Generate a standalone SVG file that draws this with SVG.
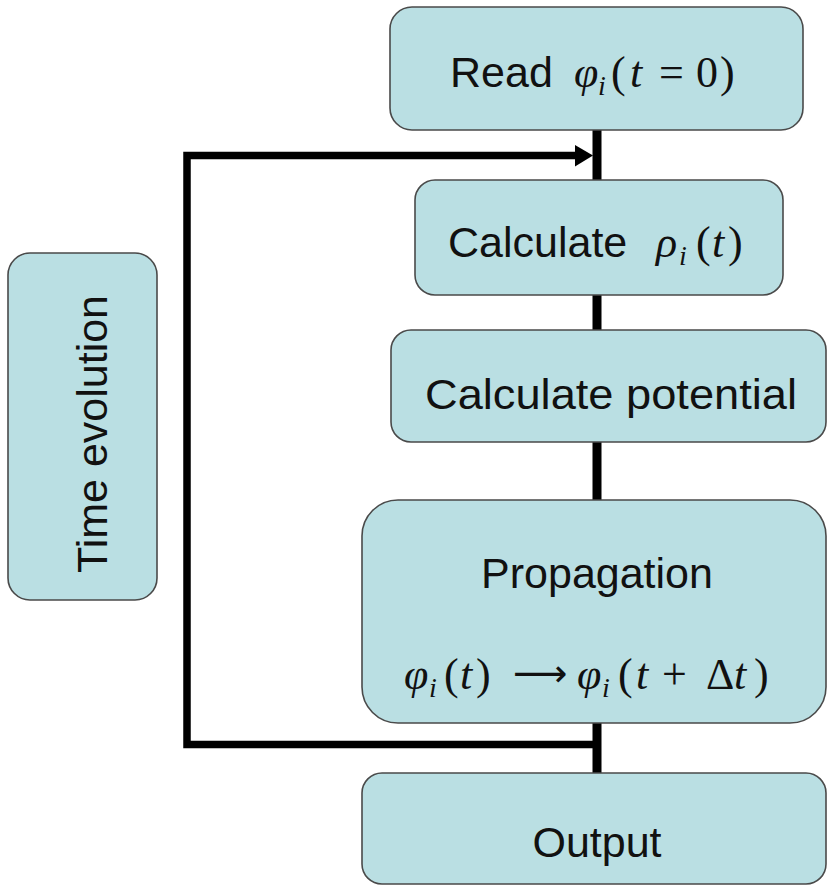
<svg xmlns="http://www.w3.org/2000/svg" width="827" height="886" viewBox="0 0 827 886">
  <style>
    .box { fill: #badfe3; stroke: #4a4a4a; stroke-width: 1.6; }
    .lbl { font-family: "Liberation Sans", Arial, sans-serif; font-size: 43px; fill: #111; }
    .math { font-family: "Liberation Serif", "Times New Roman", serif; font-size: 44px; fill: #111; }
    .it { font-style: italic; }
    .sub { font-size: 28px; font-style: italic; }
    .arr { font-family: "DejaVu Sans", sans-serif; font-size: 38px; }
    .wire { fill: none; stroke: #000; stroke-linecap: butt; stroke-linejoin: miter; }
  </style>
  <rect width="827" height="886" fill="#ffffff"/>

  <!-- connectors: main flow spine and the time-evolution loop -->
  <g id="connectors">
    <line class="wire" x1="597" y1="128" x2="597" y2="775" stroke-width="9"/>
    <path class="wire" d="M 597 744.5 H 187 V 155.5 H 577" stroke-width="7.5"/>
    <polygon points="575,145 593,155.5 575,166.5" fill="#000"/>
  </g>

  <g id="node-read">
    <rect class="box" x="390" y="7" width="413" height="123" rx="22"/>
    <text class="lbl" x="450" y="87">Read</text>
    <text class="math" y="87">
      <tspan class="it" x="574">φ</tspan>
      <tspan class="sub" x="598" y="95">i</tspan>
      <tspan x="611" y="87">(</tspan>
      <tspan class="it" x="630">t</tspan>
      <tspan x="659">=</tspan>
      <tspan x="696">0</tspan>
      <tspan x="720">)</tspan>
    </text>
  </g>

  <g id="node-density">
    <rect class="box" x="415" y="180" width="368" height="115" rx="20"/>
    <text class="lbl" x="448" y="257">Calculate</text>
    <text class="math" y="257">
      <tspan class="it" x="656">ρ</tspan>
      <tspan class="sub" x="679" y="265">i</tspan>
      <tspan x="696" y="257">(</tspan>
      <tspan class="it" x="712">t</tspan>
      <tspan x="728">)</tspan>
    </text>
  </g>

  <g id="node-potential">
    <rect class="box" x="391" y="330" width="435" height="112" rx="20"/>
    <text class="lbl" x="611" y="409" text-anchor="middle" textLength="372" lengthAdjust="spacingAndGlyphs">Calculate potential</text>
  </g>

  <g id="node-propagation">
    <rect class="box" x="362" y="500" width="464" height="223" rx="36"/>
    <text class="lbl" x="597" y="588" text-anchor="middle">Propagation</text>
    <text class="math" y="689">
      <tspan class="it" x="404">φ</tspan>
      <tspan class="sub" x="429" y="697">i</tspan>
      <tspan x="444" y="689">(</tspan>
      <tspan class="it" x="460">t</tspan>
      <tspan x="476">)</tspan>
      <tspan class="arr" x="513" y="686">⟶</tspan>
      <tspan class="it" x="577" y="689">φ</tspan>
      <tspan class="sub" x="602" y="697">i</tspan>
      <tspan x="618" y="689">(</tspan>
      <tspan class="it" x="636">t</tspan>
      <tspan x="662">+</tspan>
      <tspan x="706">Δ</tspan>
      <tspan class="it" x="734">t</tspan>
      <tspan x="754">)</tspan>
    </text>
  </g>

  <g id="node-output">
    <rect class="box" x="362" y="773" width="464" height="111" rx="20"/>
    <text class="lbl" x="597" y="857" text-anchor="middle">Output</text>
  </g>

  <g id="node-time-evolution">
    <rect class="box" x="8" y="253" width="149" height="347" rx="22"/>
    <text class="lbl" transform="translate(107 434) rotate(-90)" text-anchor="middle">Time evolution</text>
  </g>
</svg>
